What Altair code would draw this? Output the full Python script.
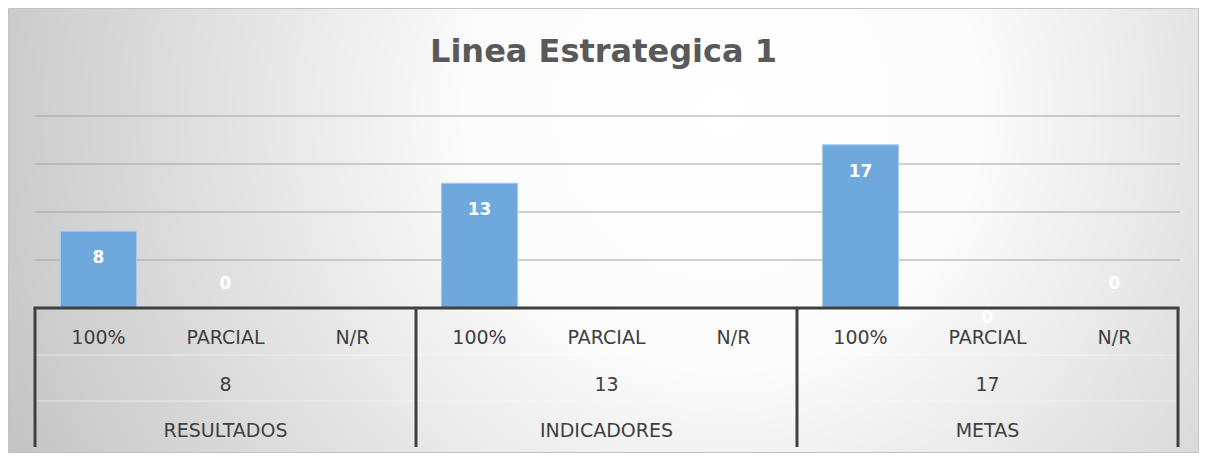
import altair as alt
import pandas as pd

# ---- data ----
grupos = ["RESULTADOS", "INDICADORES", "METAS"]
subcategorias = ["100%", "PARCIAL", "N/R"]
valores_resultados = [8, 0, None]
valores_indicadores = [13, None, None]
valores_metas = [17, 0, 0]
totales = [8, 13, 17]
grid_ticks = [5, 10, 15, 20]
titulo = "Linea Estrategica 1"

valores = [valores_resultados, valores_indicadores, valores_metas]
rows = []
for g, vals in zip(grupos, valores):
    for s, v in zip(subcategorias, vals):
        rows.append({"grupo": g, "sub": s, "key": f"{g}|{s}", "valor": v})
df = pd.DataFrame(rows)
keys = list(df["key"])

tot_df = pd.DataFrame({
    "grupo": grupos,
    "total": totales,
    "key": [f"{g}|{subcategorias[1]}" for g in grupos],
})
first_df = pd.DataFrame({"key": [f"{g}|{subcategorias[0]}" for g in grupos]})
last_df = pd.DataFrame({"key": [f"{grupos[-1]}|{subcategorias[-1]}"]})
grid_df = pd.DataFrame({"v": grid_ticks})
one_df = pd.DataFrame({"a": [0]})

FONT = "DejaVu Sans"
AXIS_C = "#404040"

xscale = alt.Scale(domain=keys, range=[27, 1170], paddingInner=0, paddingOuter=0)
yscale = alt.Scale(domain=[0, 20], range=[300, 108], nice=False)

X = alt.X("key:N", scale=xscale, axis=None)

gradient = alt.RadialGradient(
    gradient="radial",
    x1=0.6, y1=0.4, r1=0,
    x2=0.6, y2=0.4, r2=0.72,
    stops=[
        alt.GradientStop(offset=0, color="#ffffff"),
        alt.GradientStop(offset=0.3, color="#fbfbfb"),
        alt.GradientStop(offset=1, color="#bdbdbd"),
    ],
)

bg = alt.Chart(one_df).mark_rect(fill=gradient, stroke="#c4c4c4", strokeWidth=1).encode(
    x=alt.value(0.5), x2=alt.value(1190.5), y=alt.value(0.5), y2=alt.value(444.5)
)

grid = alt.Chart(grid_df).mark_rule(color="#a3a3a3", strokeWidth=1).encode(
    y=alt.Y("v:Q", scale=yscale, axis=None),
    x=alt.value(27), x2=alt.value(1172),
)

bars = alt.Chart(df).transform_filter("datum.valor > 0").mark_bar(
    width=alt.RelativeBandSize(0.6), color="#6fa8dc", stroke="#a9cbec", strokeWidth=1
).encode(
    x=X,
    y=alt.Y("valor:Q", scale=yscale, axis=None),
)

lbl_pos = alt.Chart(df).transform_filter("datum.valor > 0").mark_text(
    font=FONT, fontSize=17, fontWeight="bold", color="white", baseline="middle", dy=27
).encode(x=X, y=alt.Y("valor:Q", scale=yscale, axis=None), text="valor:Q")

lbl_zero = alt.Chart(df).transform_filter(
    "isValid(datum.valor) && datum.valor == 0 && !(datum.grupo == 'METAS' && datum.sub == 'PARCIAL')"
).mark_text(
    font=FONT, fontSize=17, fontWeight="bold", color="white", baseline="middle", dy=-24
).encode(x=X, y=alt.Y("valor:Q", scale=yscale, axis=None), text="valor:Q")

lbl_zero_low = alt.Chart(df).transform_filter(
    "isValid(datum.valor) && datum.valor == 0 && datum.grupo == 'METAS' && datum.sub == 'PARCIAL'"
).mark_text(
    font=FONT, fontSize=17, fontWeight="bold", color="white", baseline="middle", dy=10
).encode(x=X, y=alt.Y("valor:Q", scale=yscale, axis=None), text="valor:Q")

baseline = alt.Chart(one_df).mark_rule(color=AXIS_C, strokeWidth=3).encode(
    x=alt.value(25.5), x2=alt.value(1171.5), y=alt.value(300)
)

seps = alt.Chart(one_df).mark_rule(color="#ffffff", strokeWidth=1, opacity=0.5).encode(
    x=alt.value(27), x2=alt.value(1170), y=alt.value(347)
)
seps2 = alt.Chart(one_df).mark_rule(color="#ffffff", strokeWidth=1, opacity=0.5).encode(
    x=alt.value(27), x2=alt.value(1170), y=alt.value(393)
)

div_first = alt.Chart(first_df).mark_rule(color=AXIS_C, strokeWidth=3).encode(
    x=alt.X("key:N", scale=xscale, axis=None, bandPosition=0),
    y=alt.value(300), y2=alt.value(439),
)
div_last = alt.Chart(last_df).mark_rule(color=AXIS_C, strokeWidth=3).encode(
    x=alt.X("key:N", scale=xscale, axis=None, bandPosition=1),
    y=alt.value(300), y2=alt.value(439),
)

sub_txt = alt.Chart(df).mark_text(
    font=FONT, fontSize=19, color=AXIS_C, baseline="middle"
).encode(x=X, y=alt.value(330), text="sub:N")

tot_txt = alt.Chart(tot_df).mark_text(
    font=FONT, fontSize=19, color=AXIS_C, baseline="middle"
).encode(x=X, y=alt.value(377), text="total:Q")

grp_txt = alt.Chart(tot_df).mark_text(
    font=FONT, fontSize=19, color=AXIS_C, baseline="middle"
).encode(x=X, y=alt.value(423), text="grupo:N")

chart = alt.layer(
    bg, grid, seps, seps2, bars, lbl_pos, lbl_zero, lbl_zero_low,
    baseline, div_first, div_last, sub_txt, tot_txt, grp_txt,
).properties(
    width=1191, height=445,
    autosize=alt.AutoSizeParams(type="none"),
    padding=0,
    title=alt.TitleParams(
        titulo, anchor="middle", font=FONT, fontSize=32, fontWeight="bold",
        color="#595959", offset=-55, baseline="alphabetic", dy=31,
    ),
).configure_view(
    stroke=None
)

chart.save("out.html", embed_options={"renderer": "svg", "actions": False})
